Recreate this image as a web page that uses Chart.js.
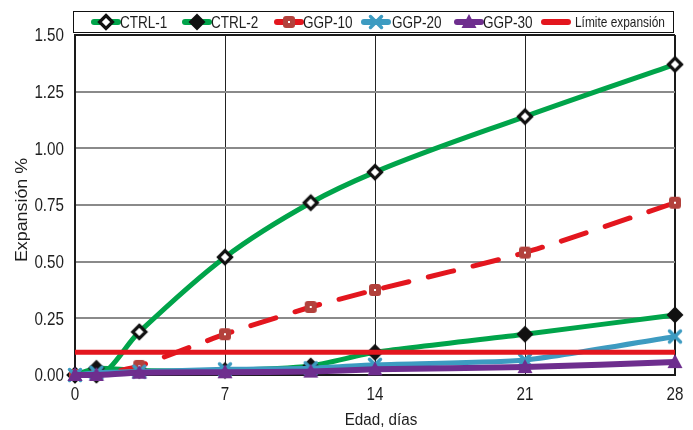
<!DOCTYPE html>
<html><head><meta charset="utf-8">
<script src="https://cdn.jsdelivr.net/npm/chart.js@4/dist/chart.umd.min.js"></script>
<style>html,body{margin:0;padding:0;background:#fff}#wrap{width:693px;height:430px}</style>
</head><body><div id="wrap"><canvas id="c" width="693" height="430"></canvas></div>
<script>
const days = [0, 1, 3, 7, 11, 14, 21, 28];
const ctrl1 = [0, 0.0, 0.19, 0.52, 0.76, 0.895, 1.14, 1.37];
const ctrl2 = [0, 0.03, 0.02, 0.02, 0.04, 0.10, 0.18, 0.265];
const ggp10 = [0, 0.0, 0.04, 0.18, 0.30, 0.375, 0.54, 0.76];
const ggp20 = [0, 0.01, 0.015, 0.025, 0.03, 0.045, 0.066, 0.17];
const ggp30 = [0, 0.0, 0.01, 0.012, 0.015, 0.025, 0.035, 0.057];
const limitDays = [0, 28];
const limitVals = [0.10, 0.10];
const xTicks = [0, 7, 14, 21, 28];
const yTicks = [0, 0.25, 0.5, 0.75, 1.0, 1.25, 1.5];
const seriesNames = ['CTRL-1', 'CTRL-2', 'GGP-10', 'GGP-20', 'GGP-30', 'Límite expansión'];
const xTitle = 'Edad, días';
const yTitle = 'Expansión %';

const FONT = "'Liberation Sans', Arial, sans-serif";
const TXT = '#1e1e1e';
const GREEN = '#00A44A', RED = '#E3161E', BROWN = '#B3413C', BLUE = '#3D9BC1', PURPLE = '#6E2E8E';

function mk(draw, s) {
  const c = document.createElement('canvas'); c.width = s; c.height = s;
  const g = c.getContext('2d'); draw(g, s / 2); return c;
}
const mDiamondHollow = mk((g, h) => { g.beginPath(); g.moveTo(h, h - 6.5); g.lineTo(h + 6.5, h); g.lineTo(h, h + 6.5); g.lineTo(h - 6.5, h); g.closePath(); g.fillStyle = '#fff'; g.fill(); g.lineWidth = 3.2; g.strokeStyle = '#111'; g.stroke(); }, 20);
const mDiamondFull = mk((g, h) => { g.beginPath(); g.moveTo(h, h - 8.5); g.lineTo(h + 8.5, h); g.lineTo(h, h + 8.5); g.lineTo(h - 8.5, h); g.closePath(); g.fillStyle = '#111'; g.fill(); }, 20);
const mSquare = mk((g, h) => { g.fillStyle = BROWN; const r = 3, s = 12, x = h - 6, y = h - 6; g.beginPath(); g.moveTo(x + r, y); g.arcTo(x + s, y, x + s, y + s, r); g.arcTo(x + s, y + s, x, y + s, r); g.arcTo(x, y + s, x, y, r); g.arcTo(x, y, x + s, y, r); g.closePath(); g.fill(); g.fillStyle = '#fff'; g.fillRect(h - 1, h - 1, 2, 2); }, 20);
const mCross = mk((g, h) => { g.strokeStyle = BLUE; g.lineWidth = 3.5; g.lineCap = 'round'; g.beginPath(); g.moveTo(h - 5.5, h - 5.5); g.lineTo(h + 5.5, h + 5.5); g.moveTo(h + 5.5, h - 5.5); g.lineTo(h - 5.5, h + 5.5); g.stroke(); }, 20);
const mTri = mk((g, h) => { g.fillStyle = PURPLE; g.beginPath(); g.moveTo(h, h - 8); g.lineTo(h + 7.5, h + 6); g.lineTo(h - 7.5, h + 6); g.closePath(); g.fill(); }, 20);

function pts(xs, ys) { return xs.map((x, i) => ({ x: x, y: ys[i] })); }

const datasets = [
  { label: seriesNames[0], data: pts(days, ctrl1), borderColor: GREEN, borderWidth: 5, pointStyle: mDiamondHollow, tension: 0.4, cubicInterpolationMode: 'monotone', order: 5, marker: mDiamondHollow },
  { label: seriesNames[1], data: pts(days, ctrl2), borderColor: GREEN, borderWidth: 5, pointStyle: mDiamondFull, tension: 0.2, order: 4, marker: mDiamondFull },
  { label: seriesNames[2], data: pts(days, ggp10), borderColor: RED, borderWidth: 5, borderDash: [26, 20], borderCapStyle: 'round', pointStyle: mSquare, tension: 0.2, order: 3, marker: mSquare },
  { label: seriesNames[3], data: pts(days, ggp20), borderColor: BLUE, borderWidth: 5, pointStyle: mCross, tension: 0.2, order: 2, marker: mCross },
  { label: seriesNames[4], data: pts(days, ggp30), borderColor: PURPLE, borderWidth: 6, pointStyle: mTri, tension: 0.2, order: 1, marker: mTri },
  { label: seriesNames[5], data: pts(limitDays, limitVals), borderColor: RED, borderWidth: 5, pointRadius: 0, tension: 0, order: 0, marker: null }
];
datasets.forEach(d => { d.clip = false; d.fill = false; d.backgroundColor = d.borderColor; if (d.pointRadius === undefined) d.pointRadius = 8; });

function narrowText(ctx, text, x, y, size, sx, align, base) {
  ctx.save();
  ctx.font = size + 'px ' + FONT;
  ctx.fillStyle = TXT;
  ctx.textAlign = align; ctx.textBaseline = base;
  ctx.translate(x, y); ctx.scale(sx, 1);
  ctx.fillText(text, 0, 0);
  ctx.restore();
}

const textPlugin = {
  id: 'texts',
  afterDraw(chart) {
    const ctx = chart.ctx;
    const xs = chart.scales.x, ys = chart.scales.y;
    xTicks.forEach(v => narrowText(ctx, String(v), xs.getPixelForValue(v), 395, 19, 0.8, 'center', 'middle'));
    yTicks.forEach(v => narrowText(ctx, v.toFixed(2), 64, ys.getPixelForValue(v) + 1, 19, 0.8, 'right', 'middle'));
    narrowText(ctx, xTitle, (xs.left + xs.right) / 2 + 6, 425, 16, 0.95, 'center', 'alphabetic');
    ctx.save();
    ctx.translate(27, 210); ctx.rotate(-Math.PI / 2);
    narrowText(ctx, yTitle, 0, 0, 17, 1.05, 'center', 'alphabetic');
    ctx.restore();

    // legend
    ctx.save();
    ctx.fillStyle = '#fff';
    ctx.fillRect(73, 11, 601, 22);
    ctx.strokeStyle = '#111'; ctx.lineWidth = 1;
    ctx.strokeRect(73.5, 11.5, 600, 21);
    const lx = [92, 183, 275, 362, 455, 542];
    const tx = [120, 211, 303, 392, 483, 575];
    const y = 22;
    chart.data.datasets.forEach((d, i) => {
      ctx.save();
      ctx.strokeStyle = d.borderColor; ctx.lineWidth = 6; ctx.lineCap = 'round';
      ctx.beginPath(); ctx.moveTo(lx[i] + 2, y); ctx.lineTo(lx[i] + 26, y); ctx.stroke();
      if (d.marker) ctx.drawImage(d.marker, lx[i] + 14 - 10, y - 10);
      ctx.restore();
      narrowText(ctx, d.label, tx[i], y + 1, i === 5 ? 14.5 : 16.5, 0.82, 'left', 'middle');
    });
    ctx.restore();
  }
};

const frameColor = '#1a1a1a';
new Chart(document.getElementById('c'), {
  type: 'line',
  data: { datasets: datasets },
  plugins: [textPlugin],
  options: {
    responsive: false, animation: false,
    layout: { padding: { top: 35, right: 18, left: 0, bottom: 0 } },
    plugins: { legend: { display: false }, tooltip: { enabled: false } },
    scales: {
      x: {
        type: 'linear', min: 0, max: 28,
        afterBuildTicks: s => { s.ticks = xTicks.map(v => ({ value: v })); },
        afterFit: s => { s.height = 55; },
        ticks: { display: false },
        grid: { color: c => (c.tick && (c.tick.value === 0 || c.tick.value === 28)) ? frameColor : '#222', lineWidth: c => (c.tick && (c.tick.value === 0 || c.tick.value === 28)) ? 2 : 1, drawTicks: false },
        border: { display: true, color: frameColor, width: 2 }
      },
      y: {
        min: 0, max: 1.5,
        afterBuildTicks: s => { s.ticks = yTicks.map(v => ({ value: v })); },
        afterFit: s => { s.width = 75; },
        ticks: { display: false },
        grid: { color: c => (c.tick && (c.tick.value === 0 || c.tick.value === 1.5)) ? frameColor : '#8a8a8a', lineWidth: 2, drawTicks: false },
        border: { display: true, color: frameColor, width: 2 }
      }
    }
  }
});
</script></body></html>
